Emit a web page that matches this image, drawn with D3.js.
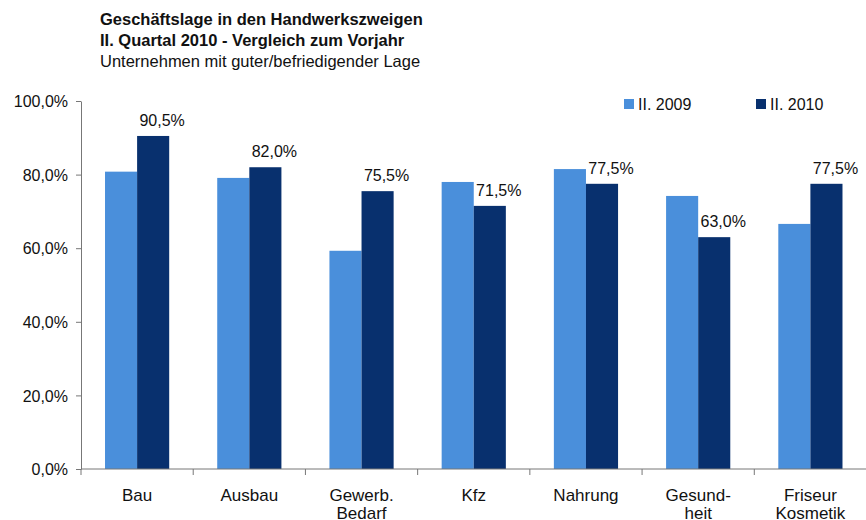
<!DOCTYPE html>
<html><head><meta charset="utf-8">
<script src="https://cdn.jsdelivr.net/npm/d3@7"></script>
<style>
body{margin:0;background:#fff;}
text{font-family:"Liberation Sans",Arial,sans-serif;fill:#111;}
</style></head>
<body><svg id="c" width="866" height="520"></svg>
<script>
const categories = [["Bau"],["Ausbau"],["Gewerb.","Bedarf"],["Kfz"],["Nahrung"],["Gesund-","heit"],["Friseur","Kosmetik"]];
const series2009 = [80.8, 79.1, 59.3, 78.0, 81.5, 74.2, 66.6];
const series2010 = [90.5, 82.0, 75.5, 71.5, 77.5, 63.0, 77.5];
const seriesNames = ["II. 2009", "II. 2010"];
const yTicks = [0, 20, 40, 60, 80, 100];
const colors = ["#4a8fdb", "#08306e"];

const svg = d3.select("#c");
const pL = 81, pR = 866.5, pT = 101, pB = 469;
const x = d3.scaleBand().domain(d3.range(categories.length)).range([pL, pR]).paddingInner(0.428).paddingOuter(0.214);
const xs = d3.scaleBand().domain([0,1]).range([0, x.bandwidth()]);
const y = d3.scaleLinear().domain([0,100]).range([pB, pT]);
const fmt = v => d3.format(".1f")(v).replace(".", ",") + "%";

// titles
svg.append("text").attr("x",100).attr("y",25).attr("font-size",16.5).attr("font-weight","bold").text("Geschäftslage in den Handwerkszweigen");
svg.append("text").attr("x",100).attr("y",46).attr("font-size",16.5).attr("font-weight","bold").text("II. Quartal 2010 - Vergleich zum Vorjahr");
svg.append("text").attr("x",100).attr("y",67).attr("font-size",16.5).text("Unternehmen mit guter/befriedigender Lage");

// bars
const data = categories.map((c,i)=>({i, vals:[series2009[i], series2010[i]]}));
const g = svg.selectAll("g.cat").data(data).join("g").attr("class","cat").attr("transform", d=>`translate(${x(d.i)},0)`);
g.selectAll("rect").data(d=>d.vals.map((v,k)=>({v,k}))).join("rect")
  .attr("x", d=>xs(d.k)).attr("width", xs.bandwidth())
  .attr("y", d=>y(d.v)).attr("height", d=>pB - y(d.v))
  .attr("fill", d=>colors[d.k]);
g.append("text").attr("x", d=>xs(1)+xs.bandwidth()/2+9).attr("y", d=>y(d.vals[1])-10)
  .attr("text-anchor","middle").attr("font-size",16).text(d=>fmt(d.vals[1]));

// y axis
const ya = svg.append("g").attr("transform",`translate(${pL},0)`)
  .call(d3.axisLeft(y).tickValues(yTicks).tickSize(5).tickSizeOuter(0).tickFormat(fmt));
ya.select(".domain").attr("stroke","#777");
ya.selectAll(".tick line").attr("stroke","#777");
ya.selectAll(".tick text").attr("font-size",16).attr("font-family","Liberation Sans, Arial, sans-serif").attr("fill","#111").attr("x",-13).attr("dy","0.35em");

// x axis
const xa = svg.append("g").attr("transform",`translate(0,${pB})`);
xa.append("line").attr("x1",pL).attr("x2",866).attr("y1",0).attr("y2",0).attr("stroke","#777");
xa.selectAll("line.tk").data(d3.range(categories.length)).join("line").attr("class","tk")
  .attr("x1",i=>pL + i*x.step()).attr("x2",i=>pL + i*x.step()).attr("y1",0).attr("y2",6).attr("stroke","#777");
const lbl = xa.selectAll("text.cl").data(categories).join("text").attr("class","cl")
  .attr("text-anchor","middle").attr("font-size",17)
  .attr("transform",(d,i)=>`translate(${x(i)+x.bandwidth()/2},0)`);
lbl.selectAll("tspan").data(d=>d).join("tspan").attr("x",0).attr("y",(d,j)=>32+j*18).text(d=>d);

// legend
const leg = [{x:624},{x:756}];
leg.forEach((l,k)=>{
  svg.append("rect").attr("x",l.x).attr("y",99).attr("width",10).attr("height",10).attr("fill",colors[k]);
  svg.append("text").attr("x",l.x+14).attr("y",110).attr("font-size",16).text(seriesNames[k]);
});
</script></body></html>
